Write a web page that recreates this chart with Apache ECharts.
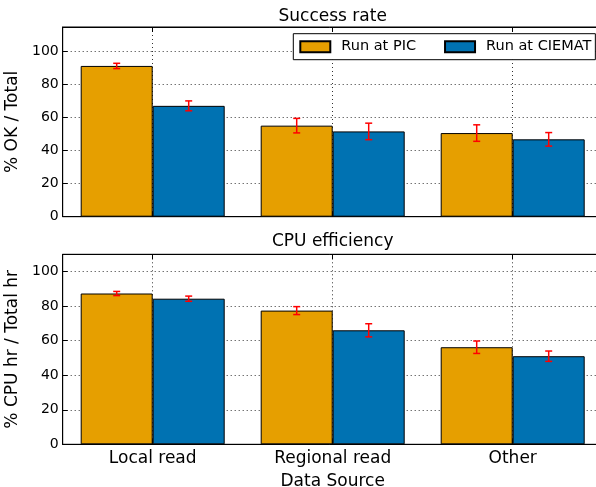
<!DOCTYPE html>
<html>
<head>
<meta charset="utf-8">
<script src="https://cdn.jsdelivr.net/npm/echarts@6/dist/echarts.min.js"></script>
<style>
html,body{margin:0;padding:0;background:#fff;}
#chart{width:596px;height:487px;}
</style>
</head>
<body>
<div id="chart"></div>
<script>
// ---- data ----
var categories = ['Local read', 'Regional read', 'Other'];
var seriesNames = ['Run at PIC', 'Run at CIEMAT'];
var picOk = [91.4, 55.2, 50.7];
var picOkErr = [1.6, 4.4, 5.0];
var ciematOk = [67.2, 51.7, 46.9];
var ciematOkErr = [3.0, 5.0, 4.1];
var picCpu = [87.3, 77.4, 56.2];
var picCpuErr = [1.2, 2.3, 3.6];
var ciematCpu = [84.3, 66.0, 51.0];
var ciematCpuErr = [1.5, 3.8, 3.0];
var yTicks = [0, 20, 40, 60, 80, 100];

var FONT = 'DejaVu Sans';
var colors = ['#E69F00', '#0072B2'];

// helper positions: half-steps across the category band (centers at odd indices)
var halfSteps = [];
for (var i = 0; i < categories.length * 2 + 1; i++) halfSteps.push(String(i));
function oddIdx(idx) { return idx % 2 === 1; }

function mainX(gridIndex, showLabels) {
  var ax = {
    type: 'category', gridIndex: gridIndex, data: categories, boundaryGap: true,
    axisLine: { show: true, lineStyle: { color: '#000', width: 1 } },
    axisTick: { show: true, inside: true, alignWithLabel: true, length: 5, lineStyle: { color: '#000' } },
    axisLabel: { show: showLabels, color: '#000', fontFamily: FONT, fontSize: 17, margin: 6 },
    splitLine: { show: false }
  };
  if (showLabels) {
    ax.name = 'Data Source';
    ax.nameLocation = 'middle';
    ax.nameGap = 29;
    ax.nameTextStyle = { color: '#000', fontFamily: FONT, fontSize: 17 };
  }
  return ax;
}
function helperX(gridIndex) {
  return {
    type: 'category', gridIndex: gridIndex, position: 'top', data: halfSteps, boundaryGap: false,
    axisLine: { show: true, lineStyle: { color: '#000', width: 1 } },
    axisTick: { show: true, inside: true, length: 5, interval: oddIdx, lineStyle: { color: '#000' } },
    axisLabel: { show: false },
    splitLine: { show: true, interval: oddIdx, lineStyle: { color: '#333', width: 1, type: [1, 3] } }
  };
}
function yAx(gridIndex, max, name) {
  return {
    type: 'value', gridIndex: gridIndex, min: 0, max: max, interval: 20,
    name: name, nameLocation: 'middle', nameGap: 30,
    nameTextStyle: { color: '#000', fontFamily: FONT, fontSize: 17 },
    axisLine: { show: true, lineStyle: { color: '#000', width: 1 } },
    axisTick: { show: true, inside: true, length: 5, lineStyle: { color: '#000' } },
    axisLabel: { color: '#000', fontFamily: FONT, fontSize: 14, margin: 4,
      formatter: function (v) { return yTicks.indexOf(v) >= 0 ? String(v) : ''; } },
    splitLine: { show: true, lineStyle: { color: '#333', width: 1, type: [1, 3] } }
  };
}
function barSeries(name, data, color, xi, yi) {
  return {
    type: 'bar', name: name, data: data, xAxisIndex: xi, yAxisIndex: yi,
    barWidth: '40%', barGap: '0%',
    itemStyle: { color: color, borderColor: '#000', borderWidth: 1 },
    emphasis: { disabled: true }, z: 2
  };
}
function errSeries(vals, errs, side, xi, yi) {
  var d = vals.map(function (v, i) { return [i, v, errs[i]]; });
  return {
    type: 'custom', name: 'err', xAxisIndex: xi, yAxisIndex: yi, data: d, z: 5,
    encode: { x: 0, y: 1 },
    renderItem: function (params, api) {
      var idx = api.value(0), v = api.value(1), e = api.value(2);
      var band = api.size([1, 0])[0];
      var c = api.coord([idx, v]);
      var x = c[0] + side * 0.2 * band;
      var yt = api.coord([idx, v + e])[1];
      var yb = api.coord([idx, v - e])[1];
      var hw = 3.5;
      var st = { stroke: '#ff0000', lineWidth: 1.5 };
      return {
        type: 'group',
        children: [
          { type: 'line', shape: { x1: x, y1: yt, x2: x, y2: yb }, style: st },
          { type: 'line', shape: { x1: x - hw, y1: yt, x2: x + hw, y2: yt }, style: st },
          { type: 'line', shape: { x1: x - hw, y1: yb, x2: x + hw, y2: yb }, style: st }
        ]
      };
    }
  };
}

var chart = echarts.init(document.getElementById('chart'), null, { renderer: 'canvas' });
chart.setOption({
  animation: false,
  backgroundColor: '#fff',
  color: colors,
  textStyle: { fontFamily: FONT },
  title: [
    { text: 'Success rate', left: 332.7, top: 8.5, textAlign: 'center', padding: 0,
      textStyle: { color: '#000', fontFamily: FONT, fontSize: 17, fontWeight: 'normal' } },
    { text: 'CPU efficiency', left: 332.7, top: 233.5, textAlign: 'center', padding: 0,
      textStyle: { color: '#000', fontFamily: FONT, fontSize: 17, fontWeight: 'normal' } }
  ],
  legend: {
    data: seriesNames, left: 293.3, top: 33.7, orient: 'horizontal',
    padding: [5.5, 4, 5.5, 6], itemWidth: 30, itemHeight: 11, itemGap: 28,
    borderColor: '#000', borderWidth: 1, backgroundColor: '#fff', icon: 'rect',
    textStyle: { color: '#000', fontFamily: FONT, fontSize: 14.5, padding: [0, 0, 0, 6] },
    selectedMode: false
  },
  grid: [
    { left: 62.7, top: 27, width: 540, height: 189.7, show: true, borderColor: '#000', borderWidth: 1,
      backgroundColor: 'transparent', containLabel: false, outerBoundsMode: 'none' },
    { left: 62.7, top: 254.3, width: 540, height: 190, show: true, borderColor: '#000', borderWidth: 1,
      backgroundColor: 'transparent', containLabel: false, outerBoundsMode: 'none' }
  ],
  xAxis: [mainX(0, false), helperX(0), mainX(1, true), helperX(1)],
  yAxis: [yAx(0, 115, '% OK / Total'), yAx(1, 110, '% CPU hr / Total hr')],
  series: [
    barSeries(seriesNames[0], picOk, colors[0], 0, 0),
    barSeries(seriesNames[1], ciematOk, colors[1], 0, 0),
    barSeries(seriesNames[0], picCpu, colors[0], 2, 1),
    barSeries(seriesNames[1], ciematCpu, colors[1], 2, 1),
    errSeries(picOk, picOkErr, -1, 0, 0),
    errSeries(ciematOk, ciematOkErr, 1, 0, 0),
    errSeries(picCpu, picCpuErr, -1, 2, 1),
    errSeries(ciematCpu, ciematCpuErr, 1, 2, 1)
  ]
});
</script>
</body>
</html>
